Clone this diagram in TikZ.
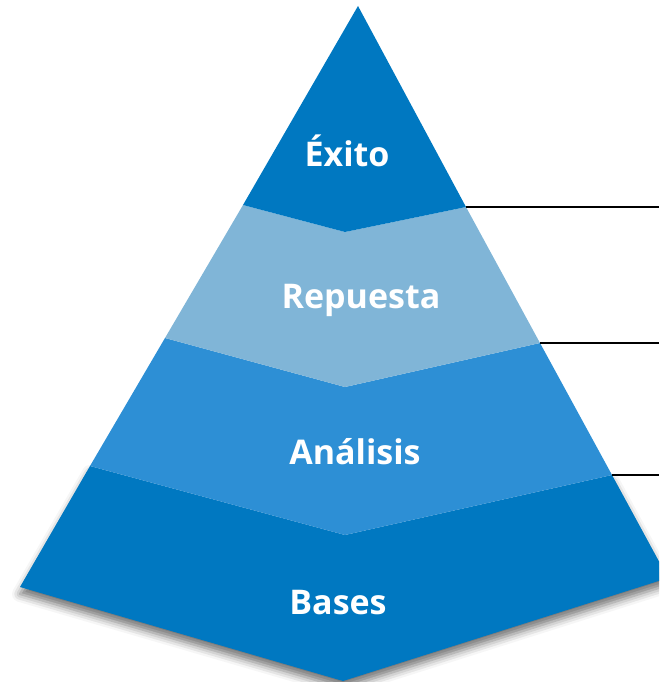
\documentclass[tikz,border=0pt]{standalone}
\usepackage{fontspec}
\setmainfont{Open Sans}
\usepackage{tikz}
\usetikzlibrary{positioning,calc,shadows.blur}

\definecolor{darkblue}{RGB}{0,120,193}
\definecolor{lightblue}{RGB}{128,181,215}
\definecolor{midblue}{RGB}{45,143,213}

\begin{document}
\begin{tikzpicture}[x=1pt,y=-1pt]
        \tikzstyle{label}=[text=white, font=\bfseries\fontsize{34}{40}\selectfont]
        \tikzstyle{tick}=[draw=black, line width=1.2pt]
        \useasboundingbox (0,0) rectangle (659,682);
        \clip (0,0) rectangle (659,682);

        % Corners
        \coordinate (top) at (358,6);
        \coordinate (l1) at (243,205);
        \coordinate (m1) at (345,232);
        \coordinate (r1) at (466,207);
        \coordinate (l2) at (165,338);
        \coordinate (m2) at (345,387);
        \coordinate (r2) at (540,343);
        \coordinate (l3) at (90,466);
        \coordinate (m3) at (345,535);
        \coordinate (r3) at (612,475);
        \coordinate (l4) at (20,587);
        \coordinate (m4) at (343,681);
        \coordinate (r4) at (668,578);

        % Bases
        \fill[darkblue, blur shadow={shadow xshift=0pt, shadow yshift=-7pt, shadow opacity=55, shadow blur radius=8pt}]
            (l3) -- (m3) -- (r3) -- (r4) -- (m4) -- (l4) -- cycle;
        % Analisis
        \fill[midblue] (l2) -- (m2) -- (r2) -- (r3) -- (m3) -- (l3) -- cycle;
        % Repuesta
        \fill[lightblue] (l1) -- (m1) -- (r1) -- (r2) -- (m2) -- (l2) -- cycle;
        % Exito
        \fill[darkblue] (top) -- (r1) -- (m1) -- (l1) -- cycle;

        % Labels
        \node (exito) [label] at (347,151) {Éxito};
        \node (repuesta) [label] at (361,300) {Repuesta};
        \node (analisis) [label] at (355,452) {Análisis};
        \node (bases) [label] at (338,603) {Bases};

        % Lines
        \coordinate (e1) at (659,207);
        \coordinate (e2) at (659,343);
        \coordinate (e3) at (659,475);
        \draw[tick] (r1) -- (e1);
        \draw[tick] (r2) -- (e2);
        \draw[tick] (r3) -- (e3);
    \end{tikzpicture}
\end{document}
